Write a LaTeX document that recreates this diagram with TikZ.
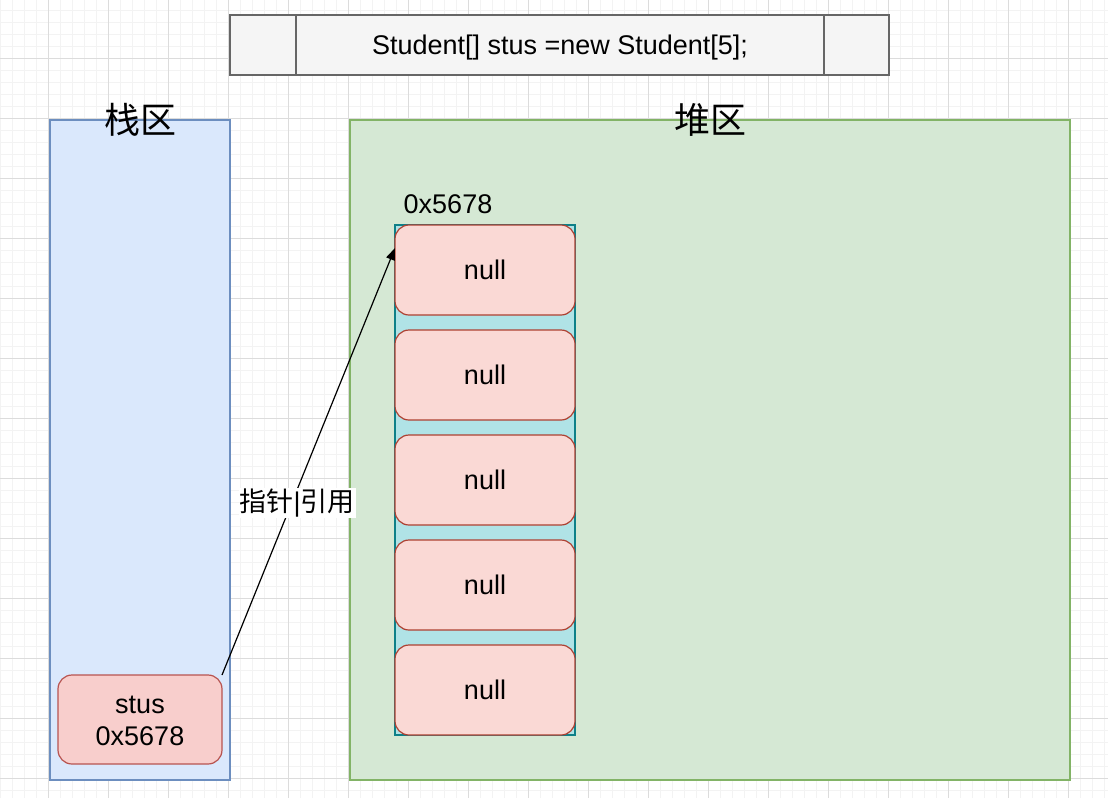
\documentclass[tikz,border=0pt]{standalone}
\usepackage{fontspec}
\setmainfont{Liberation Sans}
\newfontfamily\cjk{Noto Sans CJK SC}
\usetikzlibrary{arrows.meta}
\definecolor{gridminor}{HTML}{F3F3F3}
\definecolor{gridmajor}{HTML}{DCDCDC}
\definecolor{procfill}{HTML}{F5F5F5}
\definecolor{procline}{HTML}{666666}
\definecolor{stackfill}{HTML}{DAE8FC}
\definecolor{stackline}{HTML}{6C8EBF}
\definecolor{heapfill}{HTML}{D5E8D4}
\definecolor{heapline}{HTML}{82B366}
\definecolor{varfill}{HTML}{F8CECC}
\definecolor{varline}{HTML}{B85450}
\definecolor{arrfill}{HTML}{B0E3E6}
\definecolor{arrline}{HTML}{0E8088}
\definecolor{cellfill}{HTML}{FAD9D5}
\definecolor{cellline}{HTML}{AE4132}
\begin{document}
\begin{tikzpicture}[x=1pt,y=-1pt,
  every node/.style={outer sep=0pt,inner sep=0pt},
  gminor/.style={draw=gridminor,line width=1pt},
  gmajor/.style={draw=gridmajor,line width=1pt},
  region/.style={draw,line width=1.3pt,minimum width=#1,anchor=north west,minimum height=660pt},
  cell/.style={draw=cellline,fill=cellfill,line width=1.2pt,rounded corners=14pt,minimum width=180pt,minimum height=90pt,anchor=north west,font=\fontsize{27}{30}\selectfont},
  title/.style={font=\cjk\fontsize{36}{40}\selectfont},
  ptr/.style={draw=black,line width=1.2pt,-{Triangle[length=12pt,width=9pt]}}
]
\useasboundingbox (0,0) rectangle (1108,798);
\fill[white] (0,0) rectangle (1108,798);
% grid
\foreach \x in {0,12,...,1104} {\draw[gminor] (\x,0) -- (\x,798);}
\foreach \y in {10,22,...,796} {\draw[gminor] (0,\y) -- (1108,\y);}
\foreach \x in {48,108,...,1068} {\draw[gmajor] (\x,0) -- (\x,798);}
\foreach \y in {58,118,...,778} {\draw[gmajor] (0,\y) -- (1108,\y);}
% top statement box
\node[draw=procline,fill=procfill,line width=1.5pt,minimum width=659pt,minimum height=60pt,anchor=north west] (stmt) at (230,15) {};
\node[font=\fontsize{27}{30}\selectfont] (stmttext) at (560,48) {Student[] stus =new Student[5];};
\draw[procline,line width=1.5pt] (296,15) -- (296,75);
\draw[procline,line width=1.5pt] (824,15) -- (824,75);
% regions
\node[region=180pt,draw=stackline,fill=stackfill] (stack) at (50,120) {};
\node[region=720pt,draw=heapline,fill=heapfill] (heap) at (350,120) {};
\node[title] (stacktitle) at (140,120) {栈区};
\node[title] (heaptitle) at (710,120) {堆区};
% stack variable
\node[draw=varline,fill=varfill,line width=1.2pt,rounded corners=14pt,minimum width=164pt,minimum height=89pt,anchor=north west] (stus) at (58,675) {};
\node[align=center,font=\fontsize{27}{32}\selectfont] (stustext) at (140,721) {stus\\0x5678};
% array
\node[draw=arrline,fill=arrfill,line width=1.2pt,minimum width=180pt,minimum height=510pt,anchor=north west] (arr) at (395,225) {};
\node[font=\fontsize{27}{30}\selectfont] (addr) at (448,204) {0x5678};
\node[cell] (n1) at (395,225) {null};
\node[cell] (n2) at (395,330) {null};
\node[cell] (n3) at (395,435) {null};
\node[cell] (n4) at (395,540) {null};
\node[cell] (n5) at (395,645) {null};
% pointer
\coordinate (tip) at (395,248);
\draw[ptr] (stus.north east) -- node[pos=0.405,xshift=5pt,yshift=-1pt,fill=white,inner xsep=1pt,inner ysep=1pt,font=\cjk\fontsize{27}{30}\selectfont] (lbl) {指针{\fontspec{Liberation Sans}|}引用} (tip);
\end{tikzpicture}
\end{document}
